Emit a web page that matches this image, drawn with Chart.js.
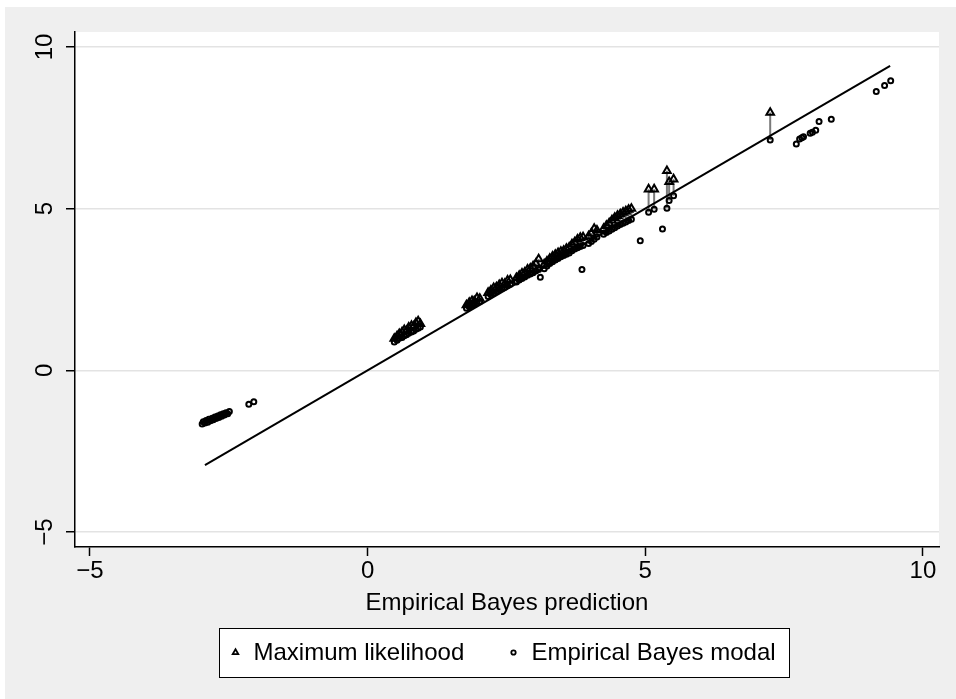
<!DOCTYPE html>
<html><head><meta charset="utf-8">
<script src="https://cdn.jsdelivr.net/npm/chart.js@4.4.0/dist/chart.umd.min.js"></script>
<style>html,body{margin:0;padding:0;background:#fff;} canvas{display:block;}</style>
</head><body>
<canvas id="c" width="956" height="699"></canvas>
<script>
// x = Empirical Bayes prediction for each school
const schoolX = [
  -2.98,-2.96,-2.93,-2.91,-2.88,-2.86,-2.83,-2.80,-2.78,-2.75,-2.73,-2.70,-2.68,-2.65,-2.63,-2.60,-2.58,-2.55,-2.52,-2.49,-2.14,-2.05,
  0.48,0.53,0.57,0.62,0.66,0.70,0.74,0.79,0.83,0.87,0.91,0.95,
  1.78,1.83,1.88,1.92,1.97,2.02,
  2.17,2.22,2.27,2.32,2.37,2.42,2.47,2.52,2.57,
  2.68,2.73,2.78,2.83,2.88,2.93,2.98,3.03,3.08,3.11,
  3.18,3.23,3.28,3.33,3.38,3.43,3.48,3.53,3.58,3.63,
  3.68,3.73,3.78,3.83,3.88,3.86,
  3.98,4.03,4.08,4.13,
  4.25,4.30,4.35,4.40,4.45,4.50,4.55,4.60,4.65,4.70,4.75,4.91,
  5.06,5.16,5.31,5.39,5.43,5.51,
  7.25,7.72,7.78,7.82,7.85,7.97,8.01,8.07,8.13,8.35,9.16,9.31,9.42
];
// Maximum likelihood estimate (null where not shown)
const mlY = [
  null,null,null,null,null,null,null,null,null,null,null,null,null,null,null,null,null,null,null,null,null,null,
  0.98,1.06,1.13,1.18,1.25,1.22,1.33,1.38,1.36,1.47,1.52,1.44,
  2.02,2.09,2.15,2.14,2.24,2.22,
  2.40,2.47,2.55,2.57,2.64,2.70,2.68,2.78,2.80,
  2.86,2.93,3.00,3.03,3.12,3.15,3.22,3.30,3.44,null,
  3.28,3.37,3.45,3.52,3.58,3.63,3.67,3.70,3.76,3.80,
  3.90,3.96,4.05,4.10,4.12,null,
  4.15,4.24,4.38,4.33,
  4.38,4.47,4.55,4.64,4.72,4.78,4.83,4.88,4.92,4.97,5.00,null,
  5.60,5.60,null,6.17,5.83,5.91,
  7.97,null,null,null,null,null,null,null,null,null,null,null,null
];
// Empirical Bayes modal prediction
const ebY = [
  -1.66,-1.59,-1.63,-1.55,-1.60,-1.51,-1.56,-1.48,-1.53,-1.44,-1.49,-1.41,-1.46,-1.37,-1.42,-1.34,-1.38,-1.31,-1.34,-1.27,-1.05,-0.97,
  0.88,0.93,0.99,1.02,1.07,1.10,1.15,1.19,1.22,1.27,1.30,1.34,
  1.92,1.97,2.01,2.05,2.09,2.13,
  2.28,2.34,2.39,2.44,2.49,2.53,2.57,2.62,2.66,
  2.73,2.79,2.84,2.89,2.94,2.98,3.02,3.07,3.12,2.88,
  3.14,3.23,3.30,3.36,3.41,3.46,3.51,3.55,3.59,3.63,
  3.70,3.75,3.79,3.83,3.86,3.12,
  3.92,3.98,4.05,4.12,
  4.21,4.26,4.31,4.36,4.41,4.46,4.51,4.55,4.59,4.63,4.67,4.01,
  4.89,4.98,4.37,5.01,5.25,5.40,
  7.12,7.00,7.15,7.19,7.22,7.33,7.36,7.42,7.69,7.76,8.62,8.81,8.95
];
// reference line
const fitX = [-2.93, 9.41];
const fitY = [-2.93, 9.41];
const xTicks = [-5, 0, 5, 10];
const yTicks = [-5, 0, 5, 10];
const mlLabel = 'Maximum likelihood';
const ebLabel = 'Empirical Bayes modal';
const xTitle = 'Empirical Bayes prediction';

const FONT = "'Liberation Sans', Arial, Helvetica, sans-serif";
const fmt = v => (v < 0 ? '\u2212' + Math.abs(v) : String(v));

const mlPts = [], ebPts = [], spikePts = [];
schoolX.forEach((x, i) => {
  ebPts.push({x: x, y: ebY[i]});
  if (mlY[i] !== null) {
    mlPts.push({x: x, y: mlY[i]});
    spikePts.push({x: x, y: ebY[i]}, {x: x, y: mlY[i]}, {x: x, y: null});
  }
});
const fitPts = fitX.map((x, i) => ({x: x, y: fitY[i]}));

const bgPlugin = {
  id: 'bg',
  beforeDraw(chart) {
    const {ctx, chartArea: a} = chart;
    ctx.save();
    ctx.fillStyle = '#ffffff';
    ctx.fillRect(0, 0, chart.width, chart.height);
    ctx.fillStyle = '#efefef';
    ctx.fillRect(5, 7, chart.width - 5, chart.height - 7);
    ctx.fillStyle = '#ffffff';
    ctx.fillRect(a.left, a.top, a.right - a.left, a.bottom - a.top);
    ctx.restore();
  }
};

const legendPlugin = {
  id: 'boxLegend',
  afterDraw(chart) {
    const ctx = chart.ctx;
    const a = chart.chartArea;
    const cx = (a.left + a.right) / 2 - 3.5;
    const w = 570, h = 49, top = 628;
    const left = Math.round(cx - w / 2) + 0.5;
    const midY = top + h / 2;
    ctx.save();
    ctx.fillStyle = '#ffffff';
    ctx.fillRect(left, top + 0.5, w, h);
    ctx.strokeStyle = '#000';
    ctx.lineWidth = 1;
    ctx.strokeRect(left, top + 0.5, w, h);
    // triangle marker
    const tx = left + 16, r = 3.2;
    ctx.lineWidth = 1.8;
    ctx.beginPath();
    ctx.moveTo(tx, midY - r);
    ctx.lineTo(tx + r * 0.866, midY + r * 0.5);
    ctx.lineTo(tx - r * 0.866, midY + r * 0.5);
    ctx.closePath();
    ctx.stroke();
    // circle marker
    const ox = left + 294;
    ctx.beginPath();
    ctx.arc(ox, midY, 2.2, 0, Math.PI * 2);
    ctx.stroke();
    ctx.fillStyle = '#000';
    ctx.font = '24px ' + FONT;
    ctx.textBaseline = 'middle';
    ctx.textAlign = 'left';
    ctx.fillText(chart.data.datasets[0].label, tx + 18, midY + 1);
    ctx.fillText(chart.data.datasets[1].label, ox + 18, midY + 1);
    ctx.restore();
  }
};

new Chart(document.getElementById('c'), {
  type: 'scatter',
  data: {
    datasets: [
      {label: mlLabel, data: mlPts, pointStyle: 'triangle', pointRadius: 4.4, pointHoverRadius: 4.4,
       borderColor: '#000', backgroundColor: 'rgba(0,0,0,0)', borderWidth: 2, order: 1},
      {label: ebLabel, data: ebPts, pointStyle: 'circle', pointRadius: 2.5, pointHoverRadius: 2.5,
       borderColor: '#000', backgroundColor: 'rgba(0,0,0,0)', borderWidth: 2, order: 2},
      {label: 'fit', data: fitPts, showLine: true, pointRadius: 0, borderColor: '#000', borderWidth: 2, order: 3},
      {label: 'spike', data: spikePts, showLine: true, spanGaps: false, pointRadius: 0,
       borderColor: '#7a7a7a', borderWidth: 2, order: 4}
    ]
  },
  options: {
    responsive: false,
    animation: false,
    devicePixelRatio: 1,
    layout: {padding: {left: 0, top: 32, right: 17, bottom: 77}},
    plugins: {legend: {display: false}, tooltip: {enabled: false}},
    scales: {
      x: {
        type: 'linear', min: -5.27, max: 10.29,
        afterBuildTicks: s => { s.ticks = xTicks.map(v => ({value: v})); },
        afterFit: s => { s.height = 75; },
        grid: {drawOnChartArea: false, drawTicks: true, tickLength: 9, tickColor: '#000', tickWidth: 1.5},
        border: {display: true, color: '#000', width: 1.5},
        ticks: {padding: 1, color: '#000', font: {family: FONT, size: 24}, callback: v => fmt(v)},
        title: {display: true, text: xTitle, color: '#000', font: {family: FONT, size: 24}, padding: {top: 0, bottom: 4}}
      },
      y: {
        type: 'linear', min: -5.46, max: 10.46,
        afterBuildTicks: s => { s.ticks = yTicks.map(v => ({value: v})); },
        afterFit: s => { s.width = 75; },
        grid: {color: '#e3e3e3', lineWidth: 1.5, drawTicks: true, tickLength: 9, tickColor: '#000', tickWidth: 1.5},
        border: {display: true, color: '#000', width: 1.5},
        ticks: {minRotation: 90, maxRotation: 90, crossAlign: 'center', padding: 7, color: '#000',
                font: {family: FONT, size: 24}, callback: v => fmt(v)}
      }
    }
  },
  plugins: [bgPlugin, legendPlugin]
});
</script>
</body></html>
